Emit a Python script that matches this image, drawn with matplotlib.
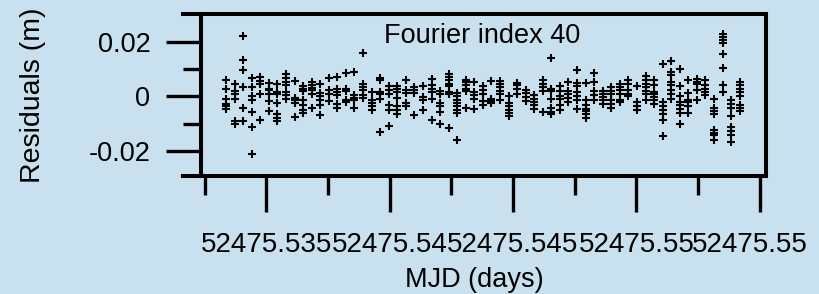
import numpy as np
import matplotlib
matplotlib.use("Agg")
import matplotlib.pyplot as plt
from matplotlib.transforms import ScaledTranslation

plt.rcParams["font.family"] = ["Liberation Sans", "DejaVu Sans"]

BG = "#c9e1ee"

# sample times (MJD), one per 30 s block
MJD = [
    52475.533360, 52475.533707, 52475.534054, 52475.534402, 52475.534749,
    52475.535096, 52475.535443, 52475.535791, 52475.536138, 52475.536485,
    52475.536832, 52475.537179, 52475.537527, 52475.537874, 52475.538221,
    52475.538568, 52475.538916, 52475.539263, 52475.539610, 52475.539957,
    52475.540304, 52475.540652, 52475.540999, 52475.541346, 52475.541693,
    52475.542041, 52475.542388, 52475.542735, 52475.543082, 52475.543429,
    52475.543777, 52475.544124, 52475.544471, 52475.544818, 52475.545166,
    52475.545513, 52475.545860, 52475.546207, 52475.546554, 52475.546902,
    52475.547249, 52475.547596, 52475.547943, 52475.548291, 52475.548638,
    52475.548985, 52475.549332, 52475.549679, 52475.550027, 52475.550374,
    52475.550721, 52475.551068, 52475.551416, 52475.551763, 52475.552110,
    52475.552457, 52475.552804, 52475.553152, 52475.553499, 52475.553846,
    52475.554193,
]

# residuals (m) at each sample time
RESID = [
    [0.0059, 0.0028, -0.0009, -0.0027, -0.0037, -0.0045],
    [0.0046, 0.0018, 0.0007, -0.0010, -0.0090, -0.0102],
    [0.0221, 0.0134, 0.0095, 0.0034, -0.0041, -0.0090],
    [0.0068, 0.0034, 0.0001, -0.0015, -0.0057, -0.0112, -0.0210],
    [0.0071, 0.0055, 0.0044, 0.0010, -0.0085],
    [0.0049, 0.0028, 0.0022, 0.0007, -0.0018, -0.0054],
    [0.0046, 0.0016, 0.0007, -0.0024, -0.0063, -0.0078, -0.0090],
    [0.0083, 0.0068, 0.0052, 0.0040, 0.0016, 0.0004, -0.0011],
    [0.0055, -0.0005, -0.0015, -0.0024, -0.0076],
    [0.0037, 0.0027, 0.0020, -0.0012, -0.0033, -0.0049, -0.0061],
    [0.0052, 0.0040, 0.0032, 0.0024, 0.0007, -0.0041],
    [0.0046, 0.0012, 0.0000, -0.0015, -0.0031, -0.0070],
    [0.0068, 0.0022, 0.0010, -0.0017],
    [0.0071, 0.0028, 0.0016, 0.0004, -0.0027, -0.0041],
    [0.0085, 0.0028, 0.0020, -0.0015, -0.0021],
    [0.0089, 0.0004, -0.0005, -0.0015, -0.0041],
    [0.0159, 0.0046, 0.0034, 0.0022, 0.0004, -0.0005],
    [0.0016, -0.0015, -0.0024, -0.0037, -0.0049],
    [0.0068, 0.0059, 0.0016, 0.0007, -0.0009, -0.0131],
    [0.0037, 0.0022, 0.0007, -0.0033, -0.0049, -0.0110],
    [0.0037, 0.0028, 0.0016, -0.0005, -0.0037, -0.0051, -0.0066],
    [0.0059, 0.0022, 0.0012, -0.0024, -0.0037],
    [0.0034, 0.0022, 0.0012, -0.0070],
    [0.0037, -0.0002, -0.0015, -0.0049],
    [0.0065, 0.0040, 0.0028, 0.0016, -0.0009, -0.0085],
    [0.0020, 0.0010, -0.0024, -0.0037, -0.0057, -0.0102],
    [0.0083, 0.0071, 0.0059, 0.0046, 0.0037, 0.0016, 0.0007, -0.0115],
    [0.0012, 0.0000, -0.0012, -0.0024, -0.0037, -0.0049, -0.0061, -0.0159],
    [0.0061, 0.0052, 0.0040, 0.0028, 0.0020, -0.0041],
    [0.0052, 0.0016, 0.0004, -0.0009, -0.0045],
    [0.0037, 0.0022, 0.0010, -0.0017, -0.0033],
    [0.0056, -0.0009, -0.0017, -0.0024],
    [0.0056, 0.0046, 0.0034, 0.0020, 0.0007, -0.0012],
    [0.0000, -0.0024, -0.0037, -0.0049, -0.0061, -0.0073],
    [0.0049, 0.0040, 0.0028, 0.0007],
    [0.0022, 0.0012, -0.0002, -0.0017],
    [0.0004, -0.0009, -0.0021, -0.0033, -0.0045],
    [0.0061, 0.0046, 0.0034, 0.0020, -0.0057],
    [0.0142, 0.0028, 0.0020, -0.0009, -0.0041, -0.0057, -0.0066],
    [0.0037, 0.0020, 0.0000, -0.0009, -0.0033, -0.0049],
    [0.0052, 0.0020, 0.0010, -0.0005, -0.0021],
    [0.0098, 0.0049, 0.0037, 0.0016, 0.0000, -0.0015, -0.0045],
    [0.0049, -0.0015, -0.0033, -0.0045, -0.0054, -0.0063, -0.0078],
    [0.0085, 0.0052, 0.0020, 0.0004, -0.0015],
    [0.0020, 0.0010, -0.0002, -0.0015, -0.0027],
    [0.0034, 0.0020, 0.0007, -0.0015, -0.0027, -0.0041],
    [0.0046, 0.0034, 0.0022, 0.0007, -0.0012, -0.0021],
    [0.0059, 0.0044, 0.0022, 0.0010, 0.0000],
    [0.0037, -0.0021, -0.0037, -0.0049],
    [0.0073, 0.0059, 0.0046, 0.0034, 0.0020, 0.0007, -0.0012],
    [0.0059, 0.0040, 0.0016, 0.0007, -0.0002, -0.0015, -0.0029],
    [0.0120, -0.0021, -0.0037, -0.0049, -0.0066, -0.0088, -0.0146],
    [0.0129, 0.0089, 0.0077, 0.0052, 0.0040, 0.0024, 0.0007, -0.0009],
    [0.0101, 0.0037, 0.0000, -0.0021, -0.0033, -0.0045, -0.0061, -0.0102],
    [0.0059, 0.0012, -0.0012, -0.0021, -0.0037, -0.0061],
    [0.0065, 0.0052, 0.0044, 0.0024, -0.0015],
    [0.0061, 0.0040, 0.0028, 0.0016, 0.0004],
    [-0.0009, -0.0041, -0.0054, -0.0063, -0.0124, -0.0134, -0.0143, -0.0159],
    [0.0227, 0.0217, 0.0207, 0.0195, 0.0156, 0.0105, 0.0040, 0.0016],
    [-0.0015, -0.0027, -0.0041, -0.0073, -0.0112, -0.0127, -0.0143, -0.0167],
    [0.0052, 0.0040, 0.0028, 0.0016, 0.0000, -0.0033, -0.0041, -0.0054],
]

XTICKS = [52475.535, 52475.540, 52475.545, 52475.550, 52475.555]
XMINOR = [52475.5325, 52475.5375, 52475.5425, 52475.5475, 52475.5525]
# last label as printed in the original (its trailing digit is lost at the edge)
XTICK_LABELS = ["52475.535", "52475.54", "52475.545", "52475.55", "52475.55"]
YTICKS = [-0.02, 0.0, 0.02]
YMINOR = [-0.01, 0.01]
YTICK_LABELS = ["-0.02", "0", "0.02"]

fig = plt.figure(figsize=(8.2, 2.94), dpi=100, facecolor=BG)
ax = fig.add_axes([183 / 820, 1 - 176 / 294, 583 / 820, 162 / 294], facecolor=BG)

x = np.concatenate([[t] * len(r) for t, r in zip(MJD, RESID)])
y = np.concatenate(RESID)
ax.plot(x, y, "+", color="black", ms=5.2, mew=1.5)

ax.set_xlim(52475.531614, 52475.55526)
ax.set_ylim(-0.02914, 0.03013)

lw = 2.9
for s in ax.spines.values():
    s.set_linewidth(lw)
    s.set_color("black")
ax.spines["left"].set_position(("axes", 18 / 583))

ax.set_xticks(XTICKS, XTICK_LABELS)
ax.set_xticks(XMINOR, minor=True)
ax.set_yticks(YTICKS, YTICK_LABELS)
ax.set_yticks(YMINOR, minor=True)

ax.tick_params(which="both", direction="out", width=2.4, color="black",
               top=False, right=False, labelsize=19.5)
ax.tick_params(axis="x", which="major", length=26, pad=14, labelsize=20)
ax.tick_params(axis="x", which="minor", length=14)
ax.tick_params(axis="y", which="major", length=25, pad=11.5)
ax.tick_params(axis="y", which="minor", length=13)

# the original's last label sits left of its tick, as if the final digit had been cut
last = ax.get_xticklabels()[-1]
last.set_transform(last.get_transform() + ScaledTranslation(-10 / 100, 0, fig.dpi_scale_trans))

ax.set_xlabel("MJD (days)", fontsize=19.5)
ax.xaxis.set_label_coords(0.5, -0.56)
ax.xaxis.label.set_va("top")
ax.set_ylabel("Residuals (m)", fontsize=20.5)
ax.yaxis.set_label_coords(-0.235, 0.5)

ax.text(0.513, 0.821, "Fourier index 40", transform=ax.transAxes,
        ha="center", va="baseline", fontsize=19.5)

fig.savefig("out.png", dpi=100, facecolor=BG)
